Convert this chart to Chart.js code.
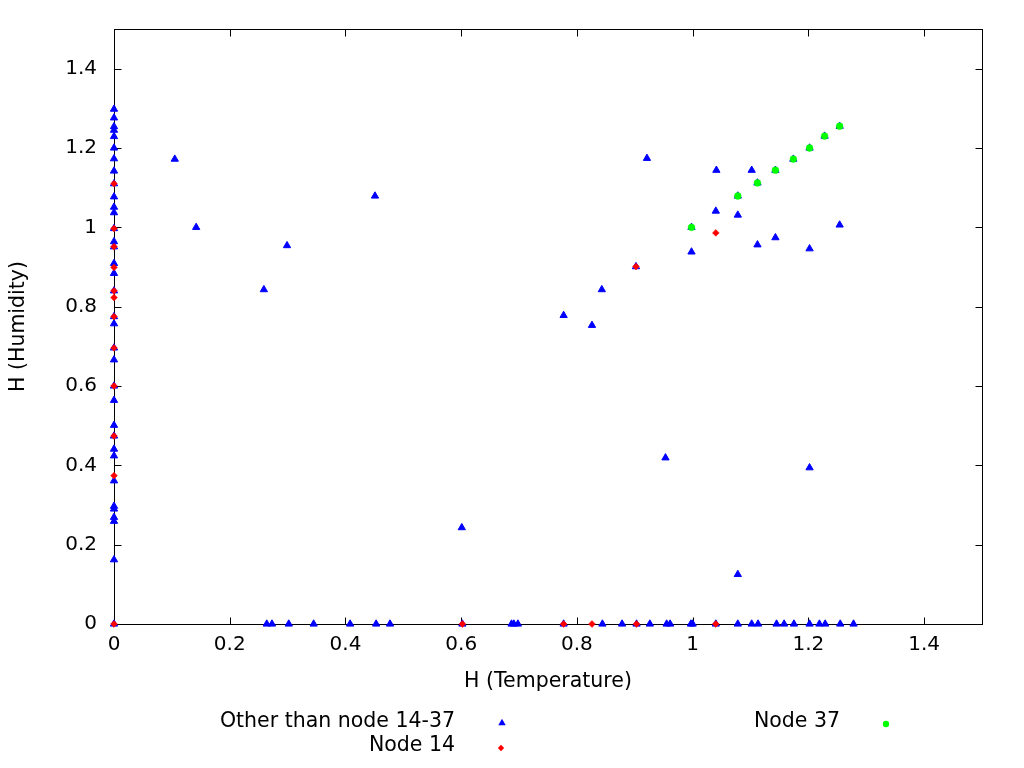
<!DOCTYPE html>
<html><head><meta charset="utf-8">
<script src="https://cdn.jsdelivr.net/npm/chart.js@4/dist/chart.umd.min.js"></script>
<style>html,body{margin:0;padding:0;background:#fff}#wrap{width:1024px;height:768px}</style>
</head><body><div id="wrap"><canvas id="c" width="1024" height="768"></canvas></div>
<script>
// ---- data ----
const tickValues = [0, 0.2, 0.4, 0.6, 0.8, 1, 1.2, 1.4];
const seriesLabels = ['Other than node 14-37', 'Node 14', 'Node 37'];
const xTitle = 'H (Temperature)';
const yTitle = 'H (Humidity)';

// "Other" points lying on x = 0 (humidity values)
const otherOnYAxis = [1.298,1.276,1.254,1.245,1.229,1.2,1.173,1.142,1.11,1.077,1.051,1.037,0.997,0.964,0.951,0.909,0.884,0.84,0.775,0.757,0.696,0.666,0.6,0.564,0.501,0.474,0.441,0.424,0.361,0.297,0.29,0.269,0.259,0.162,0];
// "Other" points lying on y = 0 (temperature values)
const otherOnXAxis = [0.264,0.273,0.302,0.345,0.408,0.453,0.477,0.602,0.687,0.691,0.698,0.777,0.844,0.878,0.903,0.926,0.955,0.961,0.997,1.0,1.040,1.078,1.102,1.113,1.145,1.158,1.175,1.202,1.219,1.229,1.255,1.278];
// "Other" free points
const otherFreeX = [0.105,0.142,0.259,0.299,0.451,0.601,0.777,0.826,0.843,0.902,0.921,0.953,0.998,0.998,1.040,1.041,1.078,1.078,1.102,1.112,1.112,1.143,1.143,1.174,1.202,1.202,1.202,1.228,1.254,1.254,1.078];
const otherFreeY = [1.172,1.0,0.843,0.954,1.079,0.243,0.778,0.753,0.843,0.901,1.174,0.419,0.938,1.0,1.041,1.144,1.079,1.031,1.144,1.112,0.956,1.144,0.974,1.172,1.2,0.946,0.394,1.23,1.255,1.006,0.125];

const node14X = [0,0,0,0,0,0,0,0,0,0,0,0,0.602,0.777,0.826,0.903,1.040,0.902,1.040];
const node14Y = [1.11,0.997,0.951,0.899,0.84,0.823,0.775,0.696,0.6,0.474,0.374,0,0,0,0,0,0,0.901,0.986];

const node37X = [0.998,1.078,1.112,1.143,1.174,1.202,1.228,1.254];
const node37Y = [1.0,1.079,1.112,1.144,1.172,1.2,1.23,1.255];

// ---- build ----
const otherPts = []
  .concat(otherOnYAxis.map(y => ({x: 0, y})))
  .concat(otherFreeX.map((x, i) => ({x, y: otherFreeY[i]})))
  .concat(otherOnXAxis.map(x => ({x, y: 0})));
const node14Pts = node14X.map((x, i) => ({x, y: node14Y[i]}));
const node37Pts = node37X.map((x, i) => ({x, y: node37Y[i]}));

const FONT = "'DejaVu Sans', 'Liberation Sans', sans-serif";
Chart.defaults.font.family = FONT;
Chart.defaults.font.size = 20;
Chart.defaults.color = '#000';

const fmt = v => String(Math.round(v * 10) / 10);

function drawMarker(ctx, style, r, x, y, color) {
  ctx.save();
  ctx.fillStyle = color; ctx.strokeStyle = color; ctx.lineWidth = 1;
  ctx.beginPath();
  if (style === 'triangle') {
    let a = 0;
    ctx.moveTo(x + Math.sin(a) * r, y - Math.cos(a) * r);
    a += 2 * Math.PI / 3;
    ctx.lineTo(x + Math.sin(a) * r, y - Math.cos(a) * r);
    a += 2 * Math.PI / 3;
    ctx.lineTo(x + Math.sin(a) * r, y - Math.cos(a) * r);
    ctx.closePath();
  } else if (style === 'rectRot') {
    ctx.moveTo(x, y - r); ctx.lineTo(x + r, y); ctx.lineTo(x, y + r); ctx.lineTo(x - r, y); ctx.closePath();
  } else {
    ctx.arc(x, y, r, 0, Math.PI * 2);
  }
  ctx.fill();
  ctx.restore();
}

const framePlugin = {
  id: 'frame',
  beforeDatasetsDraw(chart) {
    const {ctx, chartArea: a, scales} = chart;
    ctx.save();
    ctx.strokeStyle = '#000';
    ctx.lineWidth = 1;
    const L = Math.round(a.left) + 0.5, R = Math.round(a.right) + 0.5;
    const T = Math.round(a.top) + 0.5, B = Math.round(a.bottom) + 0.5;
    ctx.strokeRect(L, T, R - L, B - T);
    const tl = 7;
    ctx.beginPath();
    scales.x.ticks.forEach(t => {
      const px = Math.round(scales.x.getPixelForValue(t.value)) + 0.5;
      ctx.moveTo(px, B); ctx.lineTo(px, B - tl);
      ctx.moveTo(px, T); ctx.lineTo(px, T + tl);
    });
    scales.y.ticks.forEach(t => {
      const py = Math.round(scales.y.getPixelForValue(t.value)) + 0.5;
      ctx.moveTo(L, py); ctx.lineTo(L + tl, py);
      ctx.moveTo(R, py); ctx.lineTo(R - tl, py);
    });
    ctx.stroke();
    ctx.restore();
  },
  afterDraw(chart) {
    const {ctx} = chart;
    const ds = chart.data.datasets;
    const items = [
      {i: 0, tx: 455, ty: 722, mx: 502, my: 723},
      {i: 1, tx: 455, ty: 746, mx: 501, my: 748},
      {i: 2, tx: 840, ty: 722, mx: 886, my: 724}
    ];
    ctx.save();
    ctx.font = '20.5px ' + FONT;
    ctx.fillStyle = '#000';
    ctx.textAlign = 'right';
    ctx.textBaseline = 'middle';
    items.forEach(it => {
      const d = ds[it.i];
      ctx.fillStyle = '#000';
      ctx.fillText(d.label, it.tx, it.ty);
      drawMarker(ctx, d.pointStyle, d.legendRadius, it.mx, it.my, d.backgroundColor);
    });
    ctx.restore();
  }
};

new Chart(document.getElementById('c'), {
  type: 'scatter',
  data: {
    datasets: [
      {label: seriesLabels[0], data: otherPts, pointStyle: 'triangle', pointRadius: 4.2, legendRadius: 4.3,
       backgroundColor: '#0000ff', borderColor: '#0000ff', borderWidth: 1, order: 3, clip: false},
      {label: seriesLabels[1], data: node14Pts, pointStyle: 'rectRot', pointRadius: 3.4, legendRadius: 3.2,
       backgroundColor: '#ff0000', borderColor: '#ff0000', borderWidth: 0.5, order: 2, clip: false},
      {label: seriesLabels[2], data: node37Pts, pointStyle: 'circle', pointRadius: 3.4, legendRadius: 3.2,
       backgroundColor: '#00ff00', borderColor: '#00ff00', borderWidth: 0.5, order: 1, clip: false}
    ]
  },
  options: {
    responsive: false,
    animation: false,
    events: [],
    layout: {padding: {left: 0, top: 28, right: 42, bottom: 0}},
    plugins: {legend: {display: false}, tooltip: {enabled: false}},
    scales: {
      x: {
        type: 'linear', position: 'bottom', min: 0, max: 1.5,
        afterFit(s) { s.height = 144; },
        afterBuildTicks(s) { s.ticks = tickValues.map(v => ({value: v})); },
        grid: {display: false, drawTicks: false},
        border: {display: false},
        ticks: {color: '#000', font: {size: 20}, padding: 9, maxRotation: 0, autoSkip: false, callback: v => fmt(v)},
        title: {display: true, text: xTitle, color: '#000', font: {size: 20.5}, padding: {top: 0, bottom: 74}}
      },
      y: {
        type: 'linear', position: 'left', min: 0, max: 1.5,
        afterFit(s) { s.width = 114; },
        afterBuildTicks(s) { s.ticks = tickValues.map(v => ({value: v})); },
        grid: {display: false, drawTicks: false},
        border: {display: false},
        ticks: {color: '#000', font: {size: 20}, padding: 17, autoSkip: false, callback: v => fmt(v)},
        title: {display: true, text: yTitle, color: '#000', font: {size: 20.5}, padding: {top: 6, bottom: 0}}
      }
    }
  },
  plugins: [framePlugin]
});
</script>
</body></html>
